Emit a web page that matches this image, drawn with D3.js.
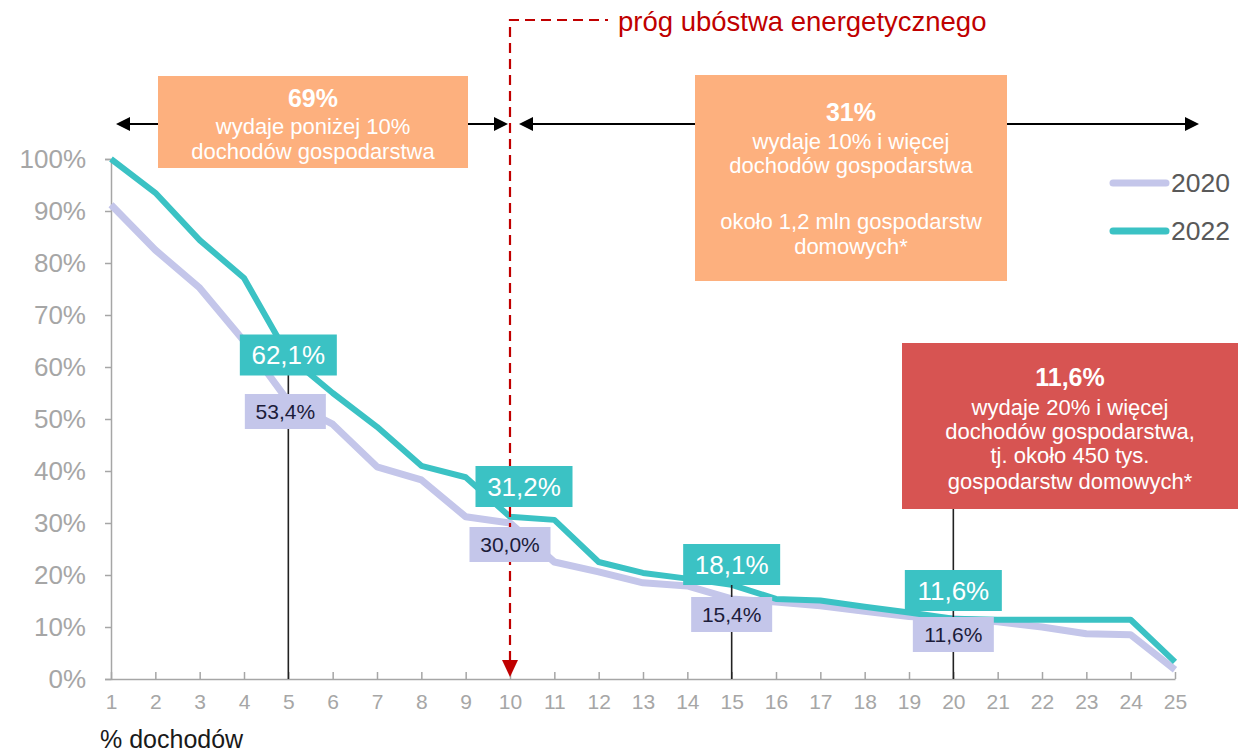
<!DOCTYPE html>
<html>
<head>
<meta charset="utf-8">
<script src="https://cdn.jsdelivr.net/npm/d3@7"></script>
<style>
  html, body { margin: 0; padding: 0; background: #fff; }
  svg { display: block; font-family: "Liberation Sans", Arial, sans-serif; }
</style>
</head>
<body>
<svg id="chart" width="1238" height="755"></svg>
<script>
// ---------- DATA ----------
const categories = d3.range(1, 26); // % dochodów 1..25
const series2020 = [91.2, 82.5, 75.2, 65.0, 53.4, 49.0, 40.8, 38.3, 31.2, 30.0, 22.5, 20.6, 18.5, 17.9, 15.4, 14.8, 14.1, 13.0, 12.0, 11.6, 11.0, 10.0, 8.7, 8.5, 1.8];
const series2022 = [100, 93.5, 84.4, 77.1, 62.1, 55.0, 48.5, 41.0, 38.8, 31.2, 30.6, 22.5, 20.4, 19.3, 18.1, 15.4, 15.1, 13.9, 12.8, 11.6, 11.4, 11.4, 11.4, 11.4, 3.3];
const yTicks = [0, 10, 20, 30, 40, 50, 60, 70, 80, 90, 100];
const legendLabels = ["2020", "2022"];
const markedCats = [5, 10, 15, 20];
const labels2022 = ["62,1%", "31,2%", "18,1%", "11,6%"];
const labels2020 = ["53,4%", "30,0%", "15,4%", "11,6%"];
const thresholdCat = 10;
const thresholdText = "próg ubóstwa energetycznego";
const box1Lines = ["69%", "wydaje poniżej 10%", "dochodów gospodarstwa"];
const box2Lines = ["31%", "wydaje 10% i więcej", "dochodów gospodarstwa", "", "około 1,2 mln gospodarstw", "domowych*"];
const box3Lines = ["11,6%", "wydaje 20% i więcej", "dochodów gospodarstwa,", "tj. około 450 tys.", "gospodarstw domowych*"];
const xTitle = "% dochodów";

// ---------- STYLE / LAYOUT ----------
const C = {
  teal: "#3BC2C4", lav: "#C4C6EA", orange: "#FDB07E", red: "#D75452",
  darkRed: "#C00000", axis: "#A6A6A6", tick: "#A6A6A6"
};
const svg = d3.select("#chart");
const x = d3.scaleLinear().domain([1, 25]).range([111, 1175]);
const y = d3.scaleLinear().domain([0, 100]).range([679, 159]);

// ---------- AXES ----------
const yAxis = d3.axisLeft(y).tickValues(yTicks).tickFormat(d => d + "%").tickSize(6).tickPadding(19);
const gy = svg.append("g").attr("transform", "translate(111,0)").call(yAxis);
gy.select(".domain").attr("stroke", C.axis).attr("stroke-width", 1.5);
gy.selectAll(".tick line").attr("stroke", C.axis).attr("stroke-width", 1.5);
gy.selectAll(".tick text").attr("fill", C.tick).attr("font-size", 26).attr("font-family", "Liberation Sans, Arial, sans-serif");

const xAxis = d3.axisBottom(x).tickValues(categories).tickFormat(d3.format("d")).tickSizeInner(-7).tickSizeOuter(0).tickPadding(15);
const gx = svg.append("g").attr("transform", "translate(0,679)").call(xAxis);
gx.select(".domain").attr("stroke", C.axis).attr("stroke-width", 1.5);
gx.selectAll(".tick line").attr("stroke", C.axis).attr("stroke-width", 1.5);
gx.selectAll(".tick text").attr("fill", C.tick).attr("font-size", 21).attr("font-family", "Liberation Sans, Arial, sans-serif");

svg.append("text").attr("x", 100).attr("y", 748).attr("font-size", 25).attr("fill", "#1a1a1a").text(xTitle);

// ---------- LINES ----------
const line = d3.line().x((d, i) => x(categories[i])).y(d => y(d));
svg.append("path").datum(series2020).attr("d", line).attr("fill", "none")
  .attr("stroke", C.lav).attr("stroke-width", 7).attr("stroke-linejoin", "round");
svg.append("path").datum(series2022).attr("d", line).attr("fill", "none")
  .attr("stroke", C.teal).attr("stroke-width", 6).attr("stroke-linejoin", "round");

// ---------- VERTICAL MARKERS ----------
const markerTops = [375, null, 585, 508];
markedCats.forEach((c, i) => {
  if (markerTops[i] == null) return;
  svg.append("line").attr("x1", x(c)).attr("x2", x(c)).attr("y1", markerTops[i]).attr("y2", y(0))
    .attr("stroke", "#222").attr("stroke-width", 1.6);
});

// ---------- THRESHOLD (red dashed) ----------
const tx = x(thresholdCat);
svg.append("path").attr("d", `M${tx},661 V20 H608`).attr("fill", "none")
  .attr("stroke", C.darkRed).attr("stroke-width", 2.2).attr("stroke-dasharray", "10,6");
svg.append("path").attr("d", `M${tx - 8},660 L${tx + 8},660 L${tx},677 Z`).attr("fill", C.darkRed);
svg.append("text").attr("x", 618).attr("y", 31).attr("font-size", 27.5).attr("fill", C.darkRed).text(thresholdText);

// ---------- DATA LABELS ----------
const tealPos = [[0, 355], [14, 486.5], [0, 564.5], [0, 590.5]];
const lavPos = [[-3, 411.5], [0, 544.5], [0, 614.5], [0, 634.5]];
markedCats.forEach((c, i) => {
  const cx = x(c) + tealPos[i][0], cy = tealPos[i][1];
  svg.append("rect").attr("x", cx - 48.5).attr("y", cy - 20.5).attr("width", 97).attr("height", 41).attr("fill", C.teal);
  svg.append("text").attr("x", cx).attr("y", cy + 9).attr("text-anchor", "middle").attr("font-size", 26)
    .attr("fill", "#fff").text(labels2022[i]);
  const lx = x(c) + lavPos[i][0], ly = lavPos[i][1];
  svg.append("rect").attr("x", lx - 40.5).attr("y", ly - 17.5).attr("width", 81).attr("height", 35).attr("fill", C.lav);
  svg.append("text").attr("x", lx).attr("y", ly + 7.5).attr("text-anchor", "middle").attr("font-size", 21)
    .attr("fill", "#1c1c3a").text(labels2020[i]);
});

// ---------- ARROWS ----------
function arrowHead(xTip, yy, dir) {
  const l = 14, h = 7;
  svg.append("path").attr("d", `M${xTip},${yy} L${xTip - dir * l},${yy - h} L${xTip - dir * l},${yy + h} Z`).attr("fill", "#000");
}
const ay = 124;
svg.append("line").attr("x1", 125).attr("x2", 500).attr("y1", ay).attr("y2", ay).attr("stroke", "#000").attr("stroke-width", 2);
arrowHead(116, ay, -1);
arrowHead(508, ay, 1);
svg.append("line").attr("x1", 528).attr("x2", 1190).attr("y1", ay).attr("y2", ay).attr("stroke", "#000").attr("stroke-width", 2);
arrowHead(519, ay, -1);
arrowHead(1199, ay, 1);

// ---------- TEXT BOXES ----------
function textBox(x0, y0, w, h, fill, lines, baselines, sizes) {
  svg.append("rect").attr("x", x0).attr("y", y0).attr("width", w).attr("height", h).attr("fill", fill);
  lines.forEach((t, i) => {
    if (!t) return;
    svg.append("text").attr("x", x0 + w / 2).attr("y", baselines[i]).attr("text-anchor", "middle")
      .attr("font-size", sizes[i]).attr("font-weight", i === 0 ? "bold" : "normal").attr("fill", "#fff").text(t);
  });
}
textBox(158, 76, 310, 92, C.orange, box1Lines, [107, 134, 159], [25, 22, 22]);
textBox(695, 75, 312, 206, C.orange, box2Lines, [121, 149, 173, 0, 229, 254], [25, 22, 22, 22, 22, 22]);
textBox(902, 343, 336, 166, C.red, box3Lines, [386, 415, 439, 463, 489], [25, 22, 22, 22, 22]);

// ---------- LEGEND ----------
const legendColors = [C.lav, C.teal];
const legendY = [183, 231];
legendLabels.forEach((l, i) => {
  svg.append("line").attr("x1", 1113).attr("x2", 1166).attr("y1", legendY[i]).attr("y2", legendY[i])
    .attr("stroke", legendColors[i]).attr("stroke-width", 7).attr("stroke-linecap", "round");
  svg.append("text").attr("x", 1171).attr("y", legendY[i] + 9).attr("font-size", 26.5).attr("fill", "#595959").text(l);
});
</script>
</body>
</html>
